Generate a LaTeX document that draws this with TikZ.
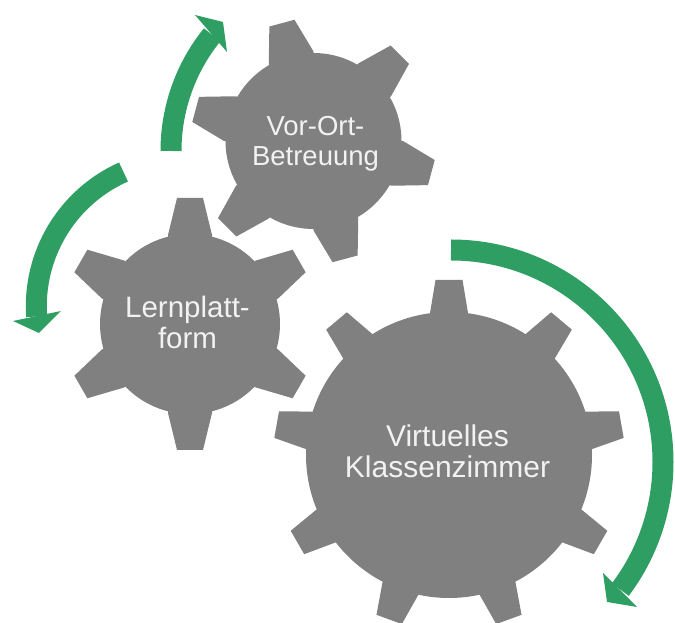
\documentclass[tikz,border=0pt]{standalone}
\usepackage{fontspec}
\setmainfont{Liberation Sans}
\definecolor{gearGray}{HTML}{808080}
\definecolor{arrowGreen}{HTML}{2F9E63}
\definecolor{labelWhite}{HTML}{F2F2F2}
\tikzset{
    gearLabel/.style = {text = labelWhite, align = center, inner sep = 0pt},
    flowArc/.style = {draw = arrowGreen, line width = 21pt},
    flowHead/.style = {fill = arrowGreen}
}
% center x, center y, body radius, tip radius, teeth, first angle, base half width, tip half width
\newcommand{\gearwheel}[8]{
    \fill[gearGray] (#1, #2) circle (#3);
    \pgfmathsetmacro{\gearstep}{360 / #5}
    \foreach \i in {1, ..., #5} {
        \pgfmathsetmacro{\gearangle}{#6 + \i * \gearstep}
        \fill[gearGray, shift = {(#1, #2)}, rotate = \gearangle]
            (#3 - 6, -#7) -- (#3 - 1, -#7) -- (#4, -#8) -- (#4, #8) -- (#3 - 1, #7) -- (#3 - 6, #7) -- cycle;
    }
}
\begin{document}
\begin{tikzpicture}[x = 1pt, y = 1pt]
    \useasboundingbox (0, 0) rectangle (675, 623);

    \gearwheel{313.5}{482}{88}{122}{6}{45}{23}{13}
    \gearwheel{190}{299}{90}{126}{6}{30}{22}{13}
    \gearwheel{449}{168}{143}{175}{9}{10}{19}{13.5}

    \node[gearLabel, font = \fontsize{27.5}{30}\selectfont] (vorort) at (315.5, 479) {Vor-Ort-\\Betreuung};
    \node[gearLabel, font = \fontsize{29.5}{31}\selectfont] (lernplattform) at (187.5, 301) {Lernplatt-\\form};
    \node[gearLabel, font = \fontsize{30}{31}\selectfont] (klassenzimmer) at (447.5, 172) {Virtuelles\\Klassenzimmer};

    % upper arrow
    \draw[flowArc] (171, 472) arc[start angle = 180, end angle = 141, radius = 184.6];
    \fill[flowHead] (195, 608) -- (223, 601) -- (227, 571) -- cycle;
    % left arrow
    \draw[flowArc] (123.5, 451) arc[start angle = 114, end angle = 184, radius = 147];
    \fill[flowHead] (13, 302) -- (39, 290) -- (61, 312) -- cycle;
    % right arrow
    \draw[flowArc] (451, 373) arc[start angle = 90, end angle = -37, radius = 212];
    \fill[flowHead] (603, 50) -- (607, 21) -- (637, 16) -- cycle;
\end{tikzpicture}
\end{document}
